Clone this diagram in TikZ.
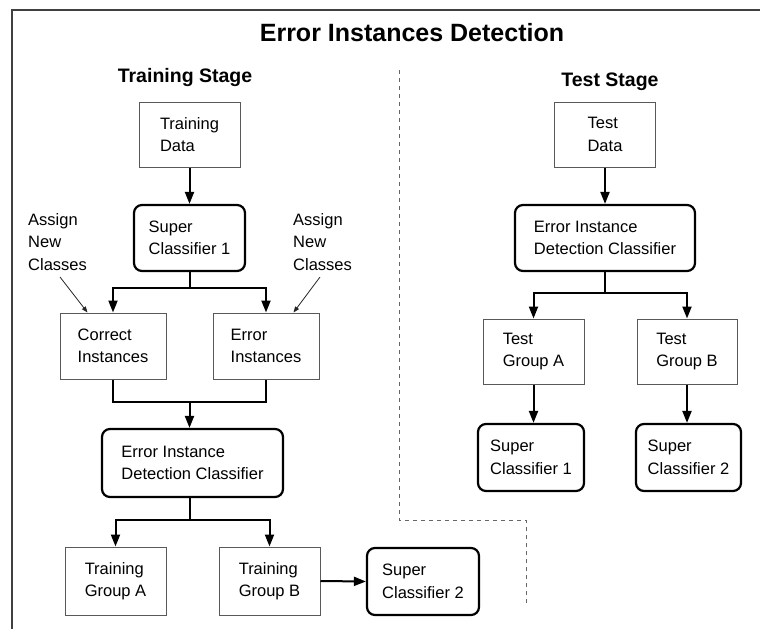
\documentclass[tikz,border=0pt]{standalone}
\usepackage{fontspec}
\setmainfont{Liberation Sans}
\usetikzlibrary{arrows.meta,calc}
\begin{document}
\begin{tikzpicture}[x=1pt,y=-1pt,
  boxfont/.style={font=\fontsize{16.5}{22.5}\selectfont},
  plainbox/.style={boxfont,draw=black!65,line width=1pt,rectangle,inner sep=0pt,align=left},
  roundbox/.style={boxfont,draw=black,line width=2.2pt,rounded corners=8pt,inner sep=0pt,align=left},
  flow/.style={line width=2pt,-{Triangle[length=12pt,width=9pt]}},
  link/.style={line width=2pt},
  notearrow/.style={line width=0.8pt,black!85,-{Triangle[length=6pt,width=4.5pt]}},
  notetext/.style={boxfont,inner sep=0pt,align=left,anchor=north west},
  heading/.style={font=\bfseries\fontsize{19.5}{22}\selectfont,inner sep=0pt}
]
\useasboundingbox (0,0) rectangle (760,629);
\fill[white] (0,0) rectangle (760,629);

% frame
\draw[line width=1.5pt,black!75] (12,629) -- (12,10) -- (760,10);

% dashed separator
\draw[black!60,line width=1pt,dash pattern=on 4pt off 4pt] (399,70) -- (399,520) -- (526,520) -- (526,603);

% titles
\node[font=\bfseries\fontsize{25}{28}\selectfont,inner sep=0pt] (title) at (412,33) {Error Instances Detection};
\node[heading] (trstage) at (185,77) {Training Stage};
\node[heading] (tsstage) at (610,82) {Test Stage};

% training stage
\node[plainbox,minimum width=101pt,minimum height=65pt] (trdata) at (189.5,134.5) {Training\\Data};
\node[roundbox,minimum width=111pt,minimum height=66pt] (sc1) at (189.5,238) {Super\\Classifier 1};
\node[plainbox,minimum width=106pt,minimum height=66pt] (correct) at (113,346) {Correct\\Instances};
\node[plainbox,minimum width=106pt,minimum height=66pt] (error) at (266,346) {Error\\Instances};
\node[roundbox,minimum width=181pt,minimum height=68pt] (eidc1) at (192.5,463) {Error Instance\\Detection Classifier};
\node[plainbox,minimum width=101pt,minimum height=68pt] (tga) at (115.5,581) {Training\\Group A};
\node[plainbox,minimum width=101pt,minimum height=68pt] (tgb) at (269.5,581) {Training\\Group B};
\node[roundbox,minimum width=112pt,minimum height=67pt] (sc2) at (423,581.5) {Super\\Classifier 2};

\node[notetext] (as1) at (28,213) {Assign\\New\\Classes};
\node[notetext] (as2) at (293,213) {Assign\\New\\Classes};
\coordinate (a1s) at (60,277);
\coordinate (a2s) at (320,277);
\draw[notearrow] (a1s) -- ($(correct.north west)+(28,0)$);
\draw[notearrow] (a2s) -- ($(error.north east)+(-26,0)$);

\draw[flow] (trdata.south) -- (sc1.north);
\draw[link] (sc1.south) -- ++(0,16) coordinate (j1);
\draw[flow] (j1) -| (correct.north);
\draw[flow] (j1) -| (error.north);
\draw[link] (correct.south) -- ++(0,22) -| (error.south);
\coordinate (m1) at ($(correct.south)!0.5!(error.south)+(0,22)$);
\draw[flow] (m1) -- (m1 |- eidc1.north);
\draw[link] (m1 |- eidc1.south) -- ++(0,22) coordinate (j2);
\draw[flow] (j2) -| (tga.north);
\draw[flow] (j2) -| (tgb.north);
\draw[flow] (tgb.east) -- (sc2.west);

% test stage
\node[plainbox,minimum width=101pt,minimum height=65pt] (tsdata) at (605,134.5) {Test\\Data};
\node[roundbox,minimum width=180pt,minimum height=66pt] (teidc) at (605,238) {Error Instance\\Detection Classifier};
\node[plainbox,minimum width=101pt,minimum height=65pt] (tsga) at (533.5,351.5) {Test\\Group A};
\node[plainbox,minimum width=100pt,minimum height=65pt] (tsgb) at (687,351.5) {Test\\Group B};
\node[roundbox,minimum width=106pt,minimum height=67pt] (tsc1) at (531,457.5) {Super\\Classifier 1};
\node[roundbox,minimum width=105pt,minimum height=67pt] (tsc2) at (688.5,457.5) {Super\\Classifier 2};

\draw[flow] (tsdata.south) -- (teidc.north);
\draw[link] (teidc.south) -- ++(0,21) coordinate (j3);
\draw[flow] (j3) -| (tsga.north);
\draw[flow] (j3) -| (tsgb.north);
\draw[flow] (tsga.south) -- (tsga.south |- tsc1.north);
\draw[flow] (tsgb.south) -- (tsgb.south |- tsc2.north);
\end{tikzpicture}
\end{document}
